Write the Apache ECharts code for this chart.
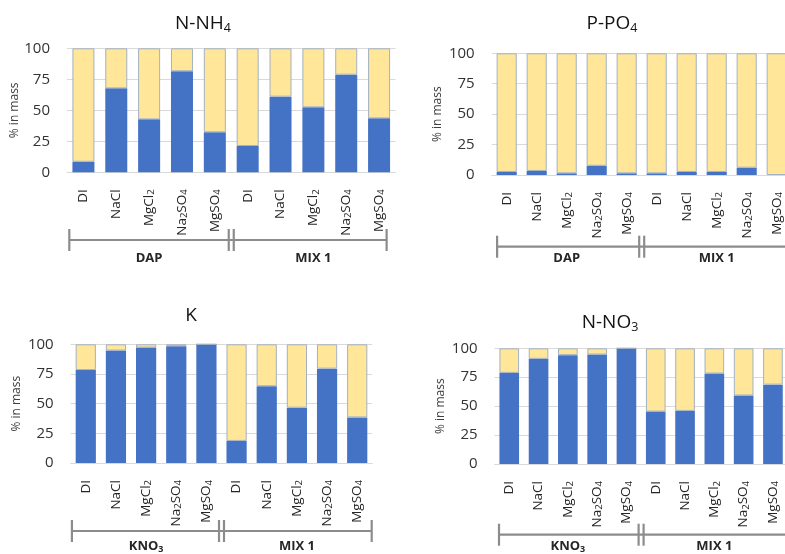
<!DOCTYPE html>
<html>
<head>
<meta charset="utf-8">
<script src="https://cdn.jsdelivr.net/npm/echarts@6/dist/echarts.min.js"></script>
<style>
  html, body { margin: 0; padding: 0; background: #ffffff; overflow: hidden; }
  /* the right-hand panels run slightly past the page edge */
  #chart { width: 810px; height: 554px; }
</style>
</head>
<body>
<div id="chart"></div>
<script>
// Salt solutions tested for each fertiliser group
const categories = ['DI', 'NaCl', 'MgCl2', 'Na2SO4', 'MgSO4', 'DI', 'NaCl', 'MgCl2', 'Na2SO4', 'MgSO4'];
const groupsPhosphate = ['DAP', 'MIX 1'];
const groupsNitrate = ['KNO3', 'MIX 1'];
const yTicks = [0, 25, 50, 75, 100];

// % in mass – lower (blue) and upper (yellow) fractions for each nutrient
const nh4Lower = [8.5, 67.7, 42.7, 81.5, 32.3, 21.2, 61.0, 52.4, 78.7, 43.5];
const nh4Upper = [91.5, 32.3, 57.3, 18.5, 67.7, 78.8, 39.0, 47.6, 21.3, 56.5];

const po4Lower = [2.5, 3.3, 1.4, 7.6, 1.4, 1.4, 2.5, 2.5, 6.0, 0];
const po4Upper = [97.5, 96.7, 98.6, 92.4, 98.6, 98.6, 97.5, 97.5, 94.0, 100];

const kLower = [78.3, 94.7, 97.2, 98.4, 100, 18.6, 64.7, 46.6, 79.5, 38.4];
const kUpper = [21.7, 5.3, 2.8, 1.6, 0, 81.4, 35.3, 53.4, 20.5, 61.6];

const no3Lower = [78.8, 90.9, 94.1, 94.6, 100, 45.3, 45.9, 78.2, 59.2, 68.6];
const no3Upper = [21.2, 9.1, 5.9, 5.4, 0, 54.7, 54.1, 21.8, 40.8, 31.4];

const BLUE = '#4472C4';
const YELLOW = '#FFE699';
const FONT = '"Open Sans", "DejaVu Sans", sans-serif';
const TEXT = '#262626';

// digits that follow a letter are chemical subscripts
const chem = s => s.replace(/([A-Za-z])(\d)/g, '$1{s|$2}');

const panels = [
  { title: 'N-NH4', lower: nh4Lower, upper: nh4Upper, groups: groupsPhosphate,
    grid: { left: 67, top: 48.3, width: 328.5, height: 124 },
    titlePos: [203, 12], nameGap: 45, groupOffset: 86,
    bracket: { lo: -0.43, hi: 0.23, dy: 67.7 } },
  { title: 'P-PO4', lower: po4Lower, upper: po4Upper, groups: groupsPhosphate,
    grid: { left: 491.7, top: 53.3, width: 300, height: 121.7 },
    titlePos: [612, 12], nameGap: 48, groupOffset: 83,
    bracket: { lo: -0.32, hi: 0.45, dy: 71.7 } },
  { title: 'K', lower: kLower, upper: kUpper, groups: groupsNitrate,
    grid: { left: 70.7, top: 344.3, width: 301.6, height: 121.7 },
    titlePos: [191, 306], nameGap: 48, groupOffset: 83,
    bracket: { lo: -0.46, hi: 0.48, dy: 68 } },
  { title: 'N-NO3', lower: no3Lower, upper: no3Upper, groups: groupsNitrate,
    grid: { left: 494.6, top: 348.3, width: 293, height: 117.7 },
    titlePos: [610, 311], nameGap: 48, groupOffset: 82,
    bracket: { lo: -0.35, hi: 0.45, dy: 70.7 } }
];

const option = {
  animation: false,
  backgroundColor: '#ffffff',
  textStyle: { fontFamily: FONT },
  title: [], grid: [], xAxis: [], yAxis: [], series: []
};

panels.forEach((p, i) => {
  option.title.push({
    text: chem(p.title),
    left: p.titlePos[0], top: p.titlePos[1], textAlign: 'center', padding: 0,
    textStyle: {
      fontFamily: FONT, fontSize: 19, fontWeight: 'normal', color: '#141414',
      rich: { s: { fontFamily: FONT, fontSize: 12.5, color: '#141414', padding: [10, 0, 0, 0] } }
    }
  });
  option.grid.push(Object.assign({ containLabel: false }, p.grid));
  option.xAxis.push({
    type: 'category', gridIndex: i, data: categories,
    axisLine: { show: true, lineStyle: { color: '#D9D9D9', width: 1 } },
    axisTick: { show: false },
    axisLabel: {
      rotate: 90, margin: 17, interval: 0, fontSize: 13.5, color: TEXT, fontFamily: FONT,
      formatter: v => chem(v),
      rich: { s: { fontSize: 9.5, fontFamily: FONT, color: TEXT, padding: [5, 0, 0, 0] } }
    }
  });
  option.xAxis.push({
    type: 'category', gridIndex: i, data: p.groups, position: 'bottom', offset: p.groupOffset,
    axisLine: { show: false }, axisTick: { show: false }, splitLine: { show: false },
    axisLabel: {
      margin: 0, verticalAlign: 'middle', fontSize: 13, fontWeight: 'bold', color: TEXT,
      fontFamily: FONT, formatter: v => chem(v),
      rich: { s: { fontSize: 9, fontWeight: 'bold', fontFamily: FONT, color: TEXT, padding: [7, 0, 0, 0] } }
    }
  });
  option.yAxis.push({
    type: 'value', gridIndex: i, min: yTicks[0], max: yTicks[yTicks.length - 1],
    interval: yTicks[1] - yTicks[0],
    name: '% in mass', nameLocation: 'middle', nameGap: p.nameGap, nameRotate: 90,
    nameTextStyle: { fontSize: 12, color: '#404040', fontFamily: FONT },
    axisLine: { show: false }, axisTick: { show: false },
    axisLabel: { fontSize: 15, color: '#333333', margin: 17, fontFamily: FONT },
    splitLine: { lineStyle: { color: '#D9D9D9', width: 1 } }
  });
  option.series.push({
    type: 'bar', xAxisIndex: 2 * i, yAxisIndex: i, stack: 'p' + i,
    data: p.lower, barCategoryGap: '33%',
    itemStyle: { color: BLUE }
  });
  option.series.push({
    type: 'bar', xAxisIndex: 2 * i, yAxisIndex: i, stack: 'p' + i,
    data: p.upper, barCategoryGap: '33%',
    itemStyle: { color: YELLOW, borderColor: '#A3B1C2', borderWidth: 1 }
  });
});

const chart = echarts.init(document.getElementById('chart'), null, { renderer: 'canvas' });
chart.setOption(option);

// Group brackets under each category axis, placed from the axis scale
function bracketGraphics() {
  const els = [];
  const stroke = { stroke: '#8C8C8C', lineWidth: 2.2 };
  panels.forEach((p, i) => {
    const ax = { xAxisIndex: 2 * i };
    const c0 = chart.convertToPixel(ax, 0);
    const band = chart.convertToPixel(ax, 1) - c0;
    const last = chart.convertToPixel(ax, categories.length - 1);
    const left = c0 + p.bracket.lo * band;
    const right = last + p.bracket.hi * band;
    const mid = c0 + (categories.length / 2 - 0.5) * band;
    const y = chart.convertToPixel({ yAxisIndex: i }, 0) + p.bracket.dy;
    const tick = x => ({ type: 'line', silent: true, shape: { x1: x, y1: y - 11, x2: x, y2: y + 11 }, style: stroke });
    els.push({ type: 'line', silent: true, shape: { x1: left, y1: y, x2: right, y2: y }, style: stroke });
    els.push(tick(left), tick(mid - 2.5), tick(mid + 2.5), tick(right));
  });
  return els;
}
chart.setOption({ graphic: bracketGraphics() });
</script>
</body>
</html>
